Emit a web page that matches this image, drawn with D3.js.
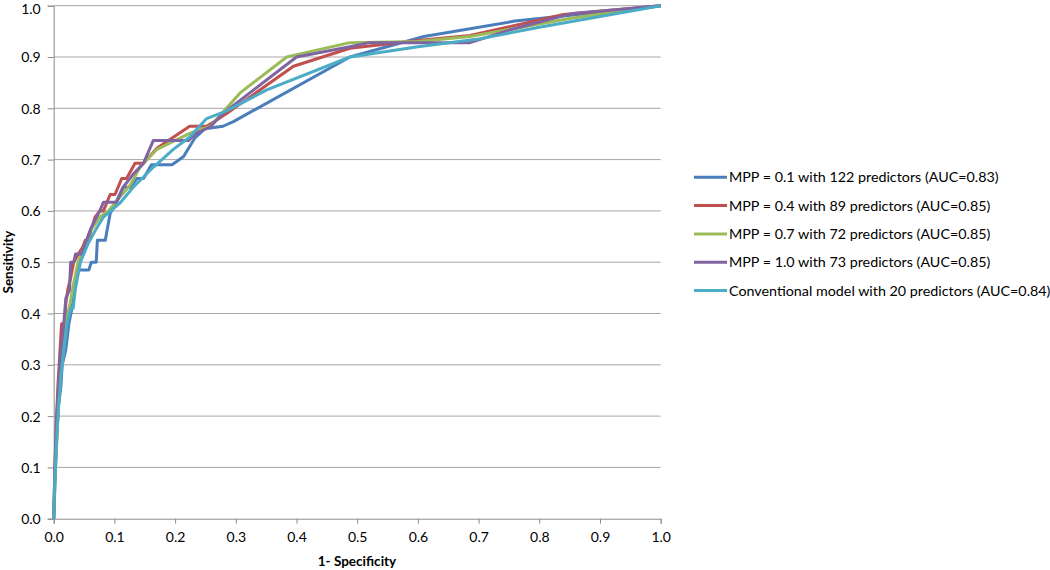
<!DOCTYPE html>
<html>
<head>
<meta charset="utf-8">
<script src="https://cdn.jsdelivr.net/npm/d3@7"></script>
<style>
  body { margin: 0; background: #fff; }
  text { font-family: Lato, "Open Sans", sans-serif; }
</style>
</head>
<body>
<svg width="1050" height="570"></svg>
<script>
var svg = d3.select("svg"),
    width = +svg.attr("width"),
    height = +svg.attr("height");

// series names (legend order)
var seriesNames = [
  "MPP = 0.1 with 122 predictors (AUC=0.83)",
  "MPP = 0.4 with 89 predictors (AUC=0.85)",
  "MPP = 0.7 with 72 predictors (AUC=0.85)",
  "MPP = 1.0 with 73 predictors (AUC=0.85)",
  "Conventional model with 20 predictors (AUC=0.84)"
];
var seriesColors = ["#4a7ebb", "#c0504d", "#9bbb59", "#8064a2", "#4bacc6"];

// ROC points [1-specificity, sensitivity]
var mpp01 = [[0,0],[0.003,0.1],[0.006,0.18],[0.008,0.22],[0.012,0.26],[0.014,0.3],[0.02,0.33],[0.025,0.38],
  [0.03,0.41],[0.035,0.45],[0.04,0.485],[0.058,0.485],[0.062,0.5],[0.07,0.5],[0.072,0.543],[0.085,0.543],
  [0.093,0.595],[0.1,0.61],[0.114,0.646],[0.126,0.646],[0.137,0.663],[0.148,0.663],[0.161,0.69],[0.195,0.69],
  [0.214,0.706],[0.233,0.743],[0.249,0.76],[0.279,0.765],[0.296,0.774],[0.488,0.9],[0.61,0.94],[0.76,0.97],
  [0.8,0.975],[1,1]];
var mpp04 = [[0,0],[0.002,0.1],[0.004,0.18],[0.007,0.26],[0.01,0.32],[0.013,0.38],[0.018,0.38],[0.02,0.42],
  [0.023,0.445],[0.028,0.47],[0.033,0.5],[0.04,0.515],[0.048,0.53],[0.052,0.543],[0.057,0.543],[0.068,0.588],
  [0.076,0.6],[0.082,0.6],[0.093,0.632],[0.101,0.632],[0.112,0.663],[0.12,0.663],[0.134,0.693],[0.148,0.693],
  [0.17,0.722],[0.224,0.765],[0.252,0.765],[0.285,0.79],[0.395,0.882],[0.488,0.917],[0.6,0.932],[0.686,0.942],
  [0.84,0.983],[1,1]];
var mpp07 = [[0,0],[0.003,0.1],[0.006,0.18],[0.01,0.26],[0.014,0.32],[0.02,0.38],[0.027,0.42],[0.033,0.46],
  [0.04,0.5],[0.05,0.53],[0.06,0.56],[0.076,0.588],[0.09,0.6],[0.104,0.62],[0.126,0.65],[0.142,0.685],
  [0.17,0.72],[0.224,0.751],[0.258,0.765],[0.307,0.83],[0.384,0.9],[0.488,0.928],[0.6,0.93],[0.686,0.94],
  [0.85,0.975],[1,1]];
var mpp10 = [[0,0],[0.002,0.1],[0.005,0.2],[0.008,0.26],[0.011,0.32],[0.015,0.36],[0.018,0.4],[0.02,0.43],
  [0.026,0.445],[0.028,0.5],[0.033,0.5],[0.036,0.516],[0.046,0.516],[0.05,0.53],[0.062,0.568],[0.076,0.6],
  [0.082,0.617],[0.104,0.617],[0.115,0.647],[0.132,0.673],[0.148,0.693],[0.164,0.737],[0.222,0.737],
  [0.233,0.75],[0.258,0.764],[0.279,0.79],[0.4,0.9],[0.488,0.92],[0.52,0.928],[0.686,0.928],[0.752,0.953],
  [0.855,0.985],[1,1]];
var conventional = [[0,0],[0.002,0.08],[0.005,0.16],[0.008,0.22],[0.012,0.28],[0.016,0.32],[0.022,0.38],
  [0.028,0.41],[0.032,0.41],[0.036,0.45],[0.044,0.5],[0.057,0.537],[0.07,0.565],[0.082,0.588],[0.109,0.615],
  [0.131,0.646],[0.164,0.685],[0.197,0.72],[0.224,0.744],[0.252,0.78],[0.285,0.795],[0.351,0.836],
  [0.488,0.9],[0.6,0.92],[0.7,0.935],[0.8,0.958],[1,1]];

var allSeries = [mpp01, mpp04, mpp07, mpp10, conventional];
var tickValues = [0,0.1,0.2,0.3,0.4,0.5,0.6,0.7,0.8,0.9,1.0];

var x = d3.scaleLinear().domain([0, 1]).range([53.7, 660.7]);
var y = d3.scaleLinear().domain([0, 1]).range([518.7, 5.7]);

// horizontal gridlines
svg.append("g")
  .selectAll("line")
  .data(tickValues.slice(1))
  .enter().append("line")
  .attr("x1", x(0)).attr("x2", x(1))
  .attr("y1", function(d) { return y(d); })
  .attr("y2", function(d) { return y(d); })
  .attr("stroke", "#a6a6a6").attr("stroke-width", 1);

// y axis
var yAxis = svg.append("g")
  .attr("transform", "translate(" + x(0) + ",0)")
  .call(d3.axisLeft(y).tickValues(tickValues).tickFormat(d3.format(".1f")).tickSize(6).tickPadding(7));
// x axis
var xAxis = svg.append("g")
  .attr("transform", "translate(0," + y(0) + ")")
  .call(d3.axisBottom(x).tickValues(tickValues).tickFormat(d3.format(".1f")).tickSize(5).tickPadding(6));

[yAxis, xAxis].forEach(function(a) {
  a.select(".domain").attr("stroke", "#8c8c8c");
  a.selectAll(".tick line").attr("stroke", "#8c8c8c");
  a.selectAll(".tick text").attr("fill", "#000").style("font-size", "14px")
    .style("font-family", "Lato, 'Open Sans', sans-serif");
});
yAxis.selectAll(".tick text").attr("dy", "0.35em");
yAxis.selectAll(".tick text").filter(function(d) { return d === 1; }).attr("dy", "0.55em");
xAxis.selectAll(".tick text").attr("dy", "0.9em");

// axis titles
svg.append("text")
  .attr("x", 357).attr("y", 566)
  .attr("text-anchor", "middle")
  .style("font-size", "13.5px").style("font-weight", "bold")
  .text("1- Specificity");

svg.append("text")
  .attr("transform", "translate(13,262) rotate(-90)")
  .attr("text-anchor", "middle")
  .style("font-size", "13.5px").style("font-weight", "bold")
  .text("Sensitivity");

// curves
var line = d3.line()
  .x(function(d) { return x(d[0]); })
  .y(function(d) { return y(d[1]); });

svg.append("g")
  .selectAll("path")
  .data(allSeries)
  .enter().append("path")
  .attr("d", line)
  .attr("fill", "none")
  .attr("stroke", function(d, i) { return seriesColors[i]; })
  .attr("stroke-width", 3)
  .attr("stroke-linejoin", "round");

// legend
var legend = svg.append("g")
  .selectAll("g")
  .data(seriesNames)
  .enter().append("g")
  .attr("transform", function(d, i) { return "translate(694," + (177.3 + i * 28.3) + ")"; });

legend.append("line")
  .attr("x1", 0).attr("x2", 33)
  .attr("stroke", function(d, i) { return seriesColors[i]; })
  .attr("stroke-width", 3);

legend.append("text")
  .attr("x", 35)
  .attr("dy", "0.35em")
  .style("font-size", "14.3px")
  .text(function(d) { return d; });
</script>
</body>
</html>
